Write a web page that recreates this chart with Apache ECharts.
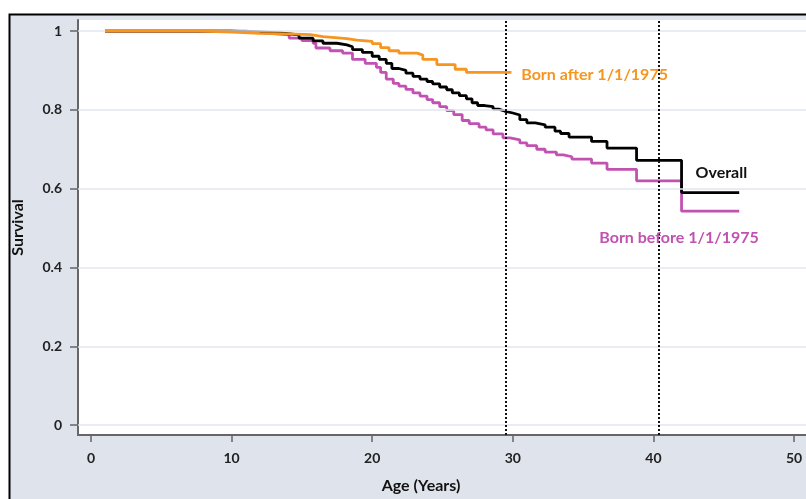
<!DOCTYPE html>
<html>
<head>
<meta charset="utf-8">
<script src="https://cdn.jsdelivr.net/npm/echarts@6/dist/echarts.min.js"></script>
<style>
html,body{margin:0;padding:0;background:#fff;}
#c{width:806px;height:499px;}
</style>
</head>
<body>
<div id="c"></div>
<script>
// ---- data ----
const xTicks = [0, 10, 20, 30, 40, 50];
const yTicks = [0, 0.2, 0.4, 0.6, 0.8, 1];
const yTickLabels = ['0', '0.2', '0.4', '0.6', '0.8', '1'];
const cutoffAges = [29.5, 40.4];

const overall = [
  [1,1],[9.9,0.998],[12,0.995],[13.5,0.99],[14.8,0.982],[15.8,0.975],[16.5,0.969],[17.5,0.965],
  [18.2,0.960],[18.6,0.953],[19.3,0.946],[20,0.936],[20.5,0.928],[21,0.918],[21.4,0.905],[21.9,0.900],
  [22.4,0.893],[22.9,0.885],[23.4,0.878],[23.9,0.872],[24.3,0.866],[24.8,0.858],[25.3,0.851],[25.7,0.843],
  [26.2,0.836],[26.7,0.828],[27.1,0.818],[27.5,0.811],[28,0.808],[28.6,0.802],[29.0,0.797],[29.4,0.792],
  [30.0,0.787],[30.5,0.775],[31.0,0.767],[31.6,0.762],[32.3,0.756],[33.0,0.746],[33.4,0.740],[34.0,0.731],
  [35.6,0.720],[36.7,0.703],[38.8,0.672],[42.0,0.590],[46.1,0.590]
];
const bornAfter = [
  [1,1],[7.7,0.997],[10.1,0.994],[12,0.993],[14.1,0.991],[15.6,0.986],[16.5,0.981],[18.2,0.977],
  [18.9,0.974],[20.0,0.968],[20.6,0.958],[21.2,0.950],[21.9,0.944],[23.2,0.939],[23.6,0.928],
  [24.6,0.915],[25.9,0.903],[26.7,0.895],[29.9,0.895]
];
const bornBefore = [
  [1,1],[10.1,1],[11,0.995],[12.5,0.99],[14.1,0.982],[15.0,0.976],[15.8,0.969],[16.0,0.957],[17.0,0.950],
  [17.9,0.944],[18.6,0.928],[19.5,0.918],[20.3,0.908],[20.6,0.895],[21.0,0.878],[21.5,0.867],[21.9,0.860],
  [22.4,0.852],[22.9,0.843],[23.4,0.835],[23.9,0.826],[24.3,0.818],[24.8,0.808],[25.3,0.798],[25.8,0.788],
  [26.4,0.773],[26.9,0.765],[27.6,0.756],[28.1,0.749],[28.6,0.739],[29.3,0.729],[29.8,0.724],[30.5,0.716],
  [31.0,0.709],[31.7,0.700],[32.3,0.693],[33.1,0.686],[33.6,0.681],[34.2,0.675],[35.6,0.665],[36.7,0.649],
  [38.8,0.620],[42.0,0.543],[46.1,0.543]
];

const FONT = 'Lato';
const chart = echarts.init(document.getElementById('c'), null, {renderer: 'canvas'});

function labelPoint(coord, text, color) {
  return {
    coord: coord, symbol: 'circle', symbolSize: 0,
    label: {show: true, position: 'right', distance: 0, formatter: text, color: color,
      fontFamily: FONT, fontWeight: 'bold', fontSize: 16}
  };
}

chart.setOption({
  animation: false,
  backgroundColor: '#ffffff',
  graphic: [{
    type: 'rect', z: -10, silent: true,
    shape: {x: 9.5, y: 14.5, width: 820, height: 500},
    style: {fill: '#dfe3ec', stroke: '#000', lineWidth: 2}
  }],
  grid: {left: 78, right: 0, top: 20, bottom: 61, show: true, backgroundColor: '#ffffff', borderWidth: 0},
  xAxis: {
    type: 'value', min: -0.92, max: 50.85,
    name: 'Age (Years)', nameLocation: 'middle', nameGap: 43,
    nameTextStyle: {fontFamily: FONT, fontWeight: 'bold', fontSize: 16, color: '#111', padding: [0, 42, 0, 0]},
    axisLine: {show: true, onZero: false, lineStyle: {color: '#666', width: 2}},
    axisTick: {show: true, length: 7, customValues: xTicks, lineStyle: {color: '#666', width: 1.5}},
    axisLabel: {customValues: xTicks, fontFamily: FONT, fontWeight: 'bold', fontSize: 14, color: '#222', margin: 16},
    splitLine: {show: false}
  },
  yAxis: {
    type: 'value', min: -0.025, max: 1.028,
    name: 'Survival', nameLocation: 'middle', nameGap: 52,
    nameTextStyle: {fontFamily: FONT, fontWeight: 'bold', fontSize: 16, color: '#111'},
    axisLine: {show: true, onZero: false, lineStyle: {color: '#666', width: 2}},
    axisTick: {show: true, length: 8, customValues: yTicks, lineStyle: {color: '#666', width: 1.5}},
    axisLabel: {customValues: yTicks, fontFamily: FONT, fontWeight: 'bold', fontSize: 14, color: '#222', margin: 16,
      formatter: function (v) { const i = yTicks.indexOf(v); return i >= 0 ? yTickLabels[i] : ''; }},
    splitLine: {show: false}
  },
  series: [
    {
      name: 'Gridlines', type: 'line', data: [], silent: true,
      markLine: {silent: true, symbol: 'none', label: {show: false},
        lineStyle: {color: '#e2e6ef', width: 1.5, type: 'solid'},
        data: yTicks.map(v => ({yAxis: v}))}
    },
    {
      name: 'Born before 1/1/1975', type: 'line', step: 'end', showSymbol: false, data: bornBefore,
      lineStyle: {color: '#c152b2', width: 2.8}, itemStyle: {color: '#c152b2'}, z: 3,
      markPoint: {silent: true, data: [labelPoint([36.15, 0.476], 'Born before 1/1/1975', '#c152b2')]}
    },
    {
      name: 'Overall', type: 'line', step: 'end', showSymbol: false, data: overall,
      lineStyle: {color: '#000000', width: 2.8}, itemStyle: {color: '#000'}, z: 4,
      markPoint: {silent: true, data: [labelPoint([43.0, 0.641], 'Overall', '#111')]},
      markLine: {silent: true, symbol: 'none', label: {show: false},
        lineStyle: {color: '#111', width: 2, type: [2, 2]},
        data: cutoffAges.map(v => ({xAxis: v}))}
    },
    {
      name: 'Born after 1/1/1975', type: 'line', step: 'end', showSymbol: false, data: bornAfter,
      lineStyle: {color: '#f6951f', width: 2.8}, itemStyle: {color: '#f6951f'}, z: 5,
      markPoint: {silent: true, data: [labelPoint([30.6, 0.889], 'Born after 1/1/1975', '#f6951f')]}
    }
  ]
});
</script>
</body>
</html>
